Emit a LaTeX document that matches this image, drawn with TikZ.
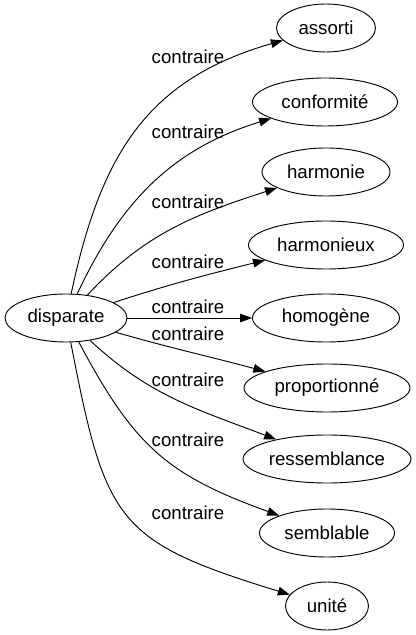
\documentclass[tikz,border=0pt]{standalone}
\usepackage{fontspec}
\setmainfont{Liberation Sans}
\usetikzlibrary{shapes.geometric, arrows.meta}

\begin{document}
\begin{tikzpicture}[
  x=0.75pt, y=0.75pt,
  every node/.style={font=\fontsize{14}{16}\selectfont},
  word/.style={ellipse, draw, inner sep=0pt, minimum height=36pt},
  rel/.style={inner sep=0pt},
  >={Triangle[length=9pt, width=6.5pt]},
  line width=0.7pt]

  \useasboundingbox (0,0) rectangle (416,635);

  \node[word, minimum width=91.5pt](disparate) at (66,317){disparate};

  \node[word, minimum width=74.25pt](assorti) at (326,607){assorti};
  \node[word, minimum width=108.75pt](conformite) at (325,533){conformité};
  \node[word, minimum width=96pt](harmonie) at (326,463){harmonie};
  \node[word, minimum width=116.25pt](harmonieux) at (326,390){harmonieux};
  \node[word, minimum width=110.25pt](homogene) at (326,317){homogène};
  \node[word, minimum width=124.5pt](proportionne) at (327,247){proportionné};
  \node[word, minimum width=126pt](ressemblance) at (327,176){ressemblance};
  \node[word, minimum width=101.25pt](semblable) at (327,102){semblable};
  \node[word, minimum width=62.25pt](unite) at (327,29){unité};

  \draw[->] (disparate) to[out=78, in=196, looseness=1.1] (assorti);
  \draw[->] (disparate) to[out=65, in=197] (conformite);
  \draw[->] (disparate) to[out=47, in=198] (harmonie);
  \draw[->] (disparate) to[out=18, in=194] (harmonieux);
  \draw[->] (disparate) -- (homogene);
  \draw[->] (disparate) to[out=-16, in=165] (proportionne);
  \draw[->] (disparate) to[out=-43, in=159] (ressemblance);
  \draw[->] (disparate) to[out=-62, in=160, looseness=1.15] (semblable);
  \draw[->] (disparate) to[out=-79, in=163, looseness=1.4] (unite);

  \node[rel](c1) at (188,578){contraire};
  \node[rel](c2) at (188,503){contraire};
  \node[rel](c3) at (188,433){contraire};
  \node[rel](c4) at (188,373){contraire};
  \node[rel](c5) at (188,328){contraire};
  \node[rel](c6) at (188,301){contraire};
  \node[rel](c7) at (188,255){contraire};
  \node[rel](c8) at (188,195){contraire};
  \node[rel](c9) at (188,122){contraire};
\end{tikzpicture}
\end{document}
